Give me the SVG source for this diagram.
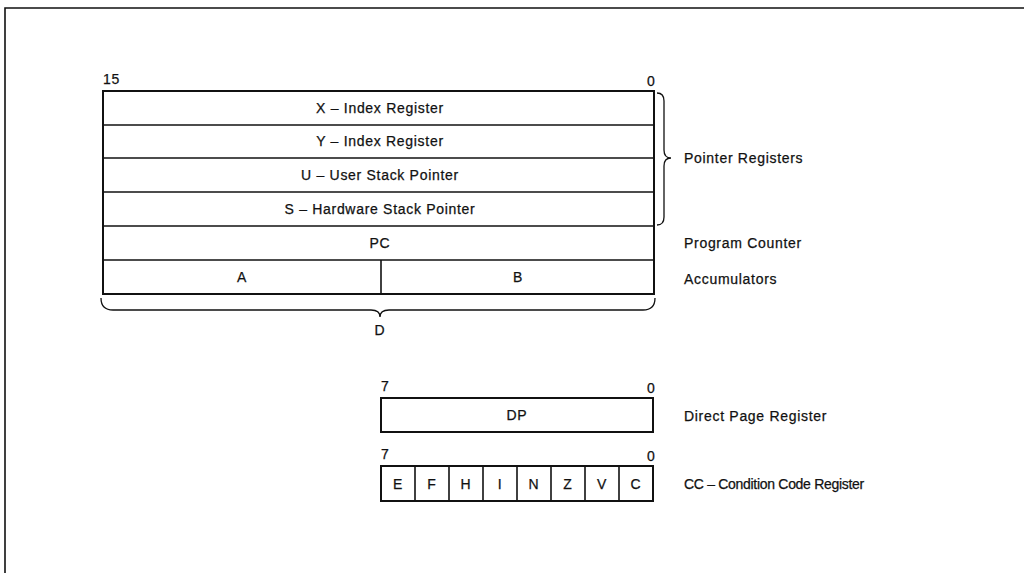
<svg xmlns="http://www.w3.org/2000/svg" width="1024" height="573" viewBox="0 0 1024 573">
<style>
text{font-family:"Liberation Sans",Arial,sans-serif;font-size:14px;letter-spacing:0.7px;fill:#111;stroke:#111;stroke-width:0.25}
.c{text-anchor:middle}
.n{font-size:14px;letter-spacing:-0.3px}
.box{fill:#fff;stroke:#111;stroke-width:2}
.ln{fill:none;stroke:#111;stroke-width:1.6}
.br{fill:none;stroke:#111;stroke-width:1.3}
</style>
<rect width="1024" height="573" fill="#fff"/>
<g id="frame"><path class="ln" d="M5 573 L5 8 L1024 8" stroke-width="2"/></g>
<g id="registers16">
<text x="103" y="84">15</text>
<text x="647" y="86">0</text>
<rect class="box" x="103" y="91" width="551" height="203"/>
<g id="X"><line class="ln" x1="103" y1="125" x2="654" y2="125"/><text class="c" x="380" y="113">X – Index Register</text></g>
<g id="Y"><line class="ln" x1="103" y1="158" x2="654" y2="158"/><text class="c" x="380" y="146">Y – Index Register</text></g>
<g id="U"><line class="ln" x1="103" y1="192" x2="654" y2="192"/><text class="c" x="380" y="180">U – User Stack Pointer</text></g>
<g id="S"><line class="ln" x1="103" y1="226" x2="654" y2="226"/><text class="c" x="380" y="214">S – Hardware Stack Pointer</text></g>
<g id="PC"><line class="ln" x1="103" y1="260" x2="654" y2="260"/><text class="c" x="380" y="248">PC</text></g>
<g id="AB"><line class="ln" x1="381" y1="260" x2="381" y2="294"/><text class="c" x="242" y="282">A</text><text class="c" x="518" y="282">B</text></g>
</g>
<g id="connectors">
<path class="br" d="M657 93 Q664 93 664 101 L664 150 Q664 158 671 158 Q664 158 664 166 L664 217 Q664 225 657 225"/>
<path class="br" d="M101 298 Q101 310 113 310 L371 310 Q380 310 380 317 Q380 310 389 310 L643 310 Q655 310 655 298"/>
</g>
<g id="labels">
<text x="684" y="163">Pointer Registers</text>
<text x="684" y="248">Program Counter</text>
<text x="684" y="284">Accumulators</text>
<text class="c" x="380" y="335">D</text>
</g>
<g id="DP">
<text x="381" y="391">7</text>
<text x="647" y="393">0</text>
<rect class="box" x="381" y="398" width="272" height="34"/>
<text class="c" x="517" y="420">DP</text>
<text x="684" y="421">Direct Page Register</text>
</g>
<g id="CC">
<text x="381" y="459">7</text>
<text x="647" y="461">0</text>
<rect class="box" x="381" y="466" width="272" height="35"/>
<line class="ln" x1="415" y1="466" x2="415" y2="501"/>
<line class="ln" x1="449" y1="466" x2="449" y2="501"/>
<line class="ln" x1="483" y1="466" x2="483" y2="501"/>
<line class="ln" x1="517" y1="466" x2="517" y2="501"/>
<line class="ln" x1="551" y1="466" x2="551" y2="501"/>
<line class="ln" x1="585" y1="466" x2="585" y2="501"/>
<line class="ln" x1="619" y1="466" x2="619" y2="501"/>
<text class="c" x="398" y="489">E</text>
<text class="c" x="432" y="489">F</text>
<text class="c" x="466" y="489">H</text>
<text class="c" x="500" y="489">I</text>
<text class="c" x="534" y="489">N</text>
<text class="c" x="568" y="489">Z</text>
<text class="c" x="602" y="489">V</text>
<text class="c" x="636" y="489">C</text>
<text class="n" x="684" y="489">CC – Condition Code Register</text>
</g>
</svg>
